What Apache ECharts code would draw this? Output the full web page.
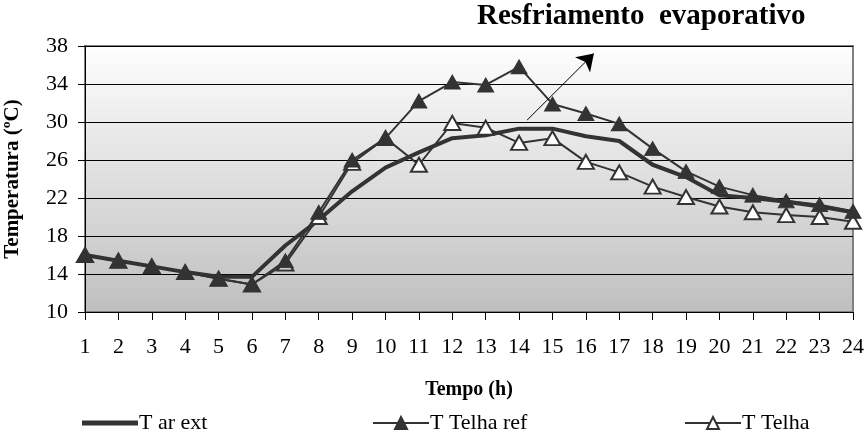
<!DOCTYPE html>
<html>
<head>
<meta charset="utf-8">
<script src="https://cdn.jsdelivr.net/npm/echarts@6/dist/echarts.min.js"></script>
<style>
  html, body { margin: 0; padding: 0; background: #fff; }
  #chart { width: 866px; height: 434px; }
</style>
</head>
<body>
<div id="chart"></div>
<script>
// horas do dia
const hours = [1, 2, 3, 4, 5, 6, 7, 8, 9, 10, 11, 12, 13, 14, 15, 16, 17, 18, 19, 20, 21, 22, 23, 24]
// temperatura do ar externo
const tArExt = [16.0, 15.4, 14.8, 14.2, 13.7, 13.7, 17.0, 19.7, 22.7, 25.2, 26.8, 28.3, 28.6, 29.3, 29.3, 28.5, 28.0, 25.5, 24.2, 22.3, 22.0, 21.6, 21.1, 20.5]
// telha de referência
const tTelhaRef = [16.0, 15.4, 14.8, 14.2, 13.5, 12.9, 15.4, 20.5, 26.0, 28.3, 32.2, 34.2, 33.9, 35.8, 31.9, 30.9, 29.8, 27.2, 24.8, 23.2, 22.3, 21.7, 21.3, 20.6]
// telha com resfriamento evaporativo
const tTelha = [16.0, 15.4, 14.8, 14.2, 13.5, 12.9, 15.1, 20.0, 25.7, 28.3, 25.5, 29.9, 29.4, 27.8, 28.3, 25.8, 24.7, 23.2, 22.1, 21.1, 20.5, 20.2, 20.0, 19.5]
const yTicks = [10, 38, 4] // min, max, passo

const serif = 'Liberation Serif'
const ink = '#333333'
const pairs = arr => hours.map((h, i) => [h, arr[i]])

const chart = echarts.init(document.getElementById('chart'))

// estilo comum das legendas
const legendBase = {
  top: 407,
  itemWidth: 56,
  itemHeight: 15,
  itemGap: 0,
  textStyle: { fontFamily: serif, fontSize: 22, color: '#000', padding: [0, 0, 0, -4] }
}

const option = {
  animation: false,
  backgroundColor: '#ffffff',
  textStyle: { fontFamily: serif },
  title: {
    text: 'Resfriamento  evaporativo',
    left: 472,
    top: -3,
    textStyle: { fontFamily: serif, fontSize: 29, fontWeight: 'bold', color: '#000' }
  },
  legend: [
    Object.assign({}, legendBase, {
      left: 77,
      itemHeight: 5,
      data: [{ name: 'T ar ext', icon: 'rect', itemStyle: { color: ink } }]
    }),
    Object.assign({}, legendBase, { left: 367, data: ['T Telha ref'] }),
    Object.assign({}, legendBase, { left: 679, data: ['T Telha'] })
  ],
  grid: {
    left: 85,
    right: 13,
    top: 46,
    bottom: 122,
    outerBoundsMode: 'none',
    containLabel: false,
    show: true,
    borderColor: '#808080',
    borderWidth: 2,
    backgroundColor: {
      type: 'linear', x: 0, y: 0, x2: 0, y2: 1,
      colorStops: [
        { offset: 0, color: '#fefefe' },
        { offset: 1, color: '#bfbfbf' }
      ]
    }
  },
  xAxis: {
    type: 'value',
    min: 1,
    max: 24,
    interval: 1,
    name: 'Tempo (h)',
    nameLocation: 'middle',
    nameGap: 68,
    nameTextStyle: { fontFamily: serif, fontSize: 20, fontWeight: 'bold', color: '#000' },
    axisLine: { lineStyle: { color: '#000', width: 1 } },
    axisTick: { show: true, length: 8, lineStyle: { color: '#000' } },
    axisLabel: { fontFamily: serif, fontSize: 22, color: '#000', margin: 24 },
    splitLine: { show: false }
  },
  yAxis: {
    type: 'value',
    min: yTicks[0],
    max: yTicks[1],
    interval: yTicks[2],
    name: 'Temperatura (ºC)',
    nameLocation: 'middle',
    nameGap: 62,
    nameTextStyle: { fontFamily: serif, fontSize: 21, fontWeight: 'bold', color: '#000' },
    axisLine: { show: true, lineStyle: { color: '#000', width: 1 } },
    axisTick: { show: true, length: 7, lineStyle: { color: '#000' } },
    axisLabel: { fontFamily: serif, fontSize: 22, color: '#000', margin: 17 },
    splitLine: { lineStyle: { color: '#000', width: 1 } }
  },
  series: [
    {
      name: 'T ar ext',
      type: 'line',
      data: pairs(tArExt),
      symbol: 'none',
      lineStyle: { color: ink, width: 4 },
      itemStyle: { color: ink },
      z: 2,
      markLine: {
        silent: true,
        symbol: ['none', 'arrow'],
        symbolSize: 16,
        label: { show: false },
        lineStyle: { color: '#000', width: 1, type: 'solid' },
        data: [[{ coord: [14.24, 30.2] }, { coord: [16.24, 37.2] }]]
      }
    },
    {
      name: 'T Telha',
      type: 'line',
      data: pairs(tTelha),
      symbol: 'triangle',
      symbolSize: [16, 14],
      showAllSymbol: true,
      lineStyle: { color: ink, width: 2 },
      itemStyle: { color: '#ffffff', borderColor: ink, borderWidth: 2 },
      z: 3
    },
    {
      name: 'T Telha ref',
      type: 'line',
      data: pairs(tTelhaRef),
      symbol: 'triangle',
      symbolSize: [16, 14],
      showAllSymbol: true,
      lineStyle: { color: ink, width: 2 },
      itemStyle: { color: ink, borderColor: ink, borderWidth: 1 },
      z: 4
    }
  ]
}

chart.setOption(option)
</script>
</body>
</html>
